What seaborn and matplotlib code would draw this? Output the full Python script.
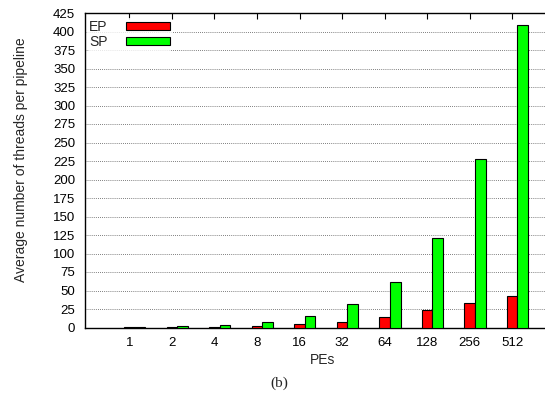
import numpy as np
import pandas as pd
import matplotlib
matplotlib.use("Agg")
import matplotlib.pyplot as plt
import seaborn as sns
from matplotlib.patches import Patch

# data
pes = ["1", "2", "4", "8", "16", "32", "64", "128", "256", "512"]
ep_threads = [0.5, 1, 1, 2, 5, 8, 14, 24, 33, 43]
sp_threads = [1, 2, 4, 8, 16, 32, 62, 121, 228, 409]
series = ["EP", "SP"]
colors = ["#ff0000", "#00ff00"]
yticks = list(range(0, 426, 25))

df = pd.DataFrame({
    "PEs": pes * 2,
    "threads": ep_threads + sp_threads,
    "series": ["EP"] * len(pes) + ["SP"] * len(pes),
})

sns.set_style("white")
plt.rcParams['font.family'] = ['Liberation Sans', 'DejaVu Sans']

fig = plt.figure(figsize=(5.45, 4.0), dpi=100)
# plot box runs past the right edge of the picture, as in the reference
ax = fig.add_axes([85 / 545, 72.5 / 400, 475 / 545, 314.5 / 400])

sns.barplot(data=df, x="PEs", y="threads", hue="series", order=pes,
            hue_order=series, palette=colors, width=0.5, dodge=True,
            edgecolor="black", linewidth=0.8, saturation=1, ax=ax,
            legend=False, zorder=3)

ax.set_ylim(0, 425)
ax.set_yticks(yticks)
ax.set_xticks(np.arange(len(pes)) - 0.125)
ax.set_xticklabels(pes)
ax.set_xlim(-1.17, 10.0)
ax.yaxis.grid(True, linestyle=(0, (1, 1.5)), color="#555555", linewidth=0.6, zorder=0)
ax.set_axisbelow(True)

ax.tick_params(axis="both", direction="in", length=4, width=0.8,
               labelsize=9.5, colors="black", top=True, right=False)
ax.tick_params(axis="x", pad=7)
ax.tick_params(axis="y", pad=7)
for s in ["left", "top", "bottom"]:
    ax.spines[s].set_color("black")
    ax.spines[s].set_linewidth(1.0)
ax.spines["right"].set_visible(False)

ax.set_xlabel("PEs", fontsize=10, labelpad=3)
ax.set_ylabel("Average number of threads per pipeline", fontsize=10)
ax.yaxis.set_label_coords(-0.12, 0.533)

handles = [Patch(facecolor=c, edgecolor="black", linewidth=0.8) for c in colors]
leg = ax.legend(handles, series, loc="upper left", bbox_to_anchor=(0.0, 0.99),
                markerfirst=False, frameon=True, fontsize=10,
                handlelength=3.2, handleheight=0.5, handletextpad=1.3,
                labelspacing=0.02, borderpad=0.15, borderaxespad=0.15)
leg.get_frame().set_facecolor("white")
leg.get_frame().set_edgecolor("none")
leg.set_zorder(5)

fig.text(0.512, 0.043, "(b)", ha="center", va="center",
         fontsize=11, family="Liberation Serif")

fig.savefig("out.png", dpi=100)
